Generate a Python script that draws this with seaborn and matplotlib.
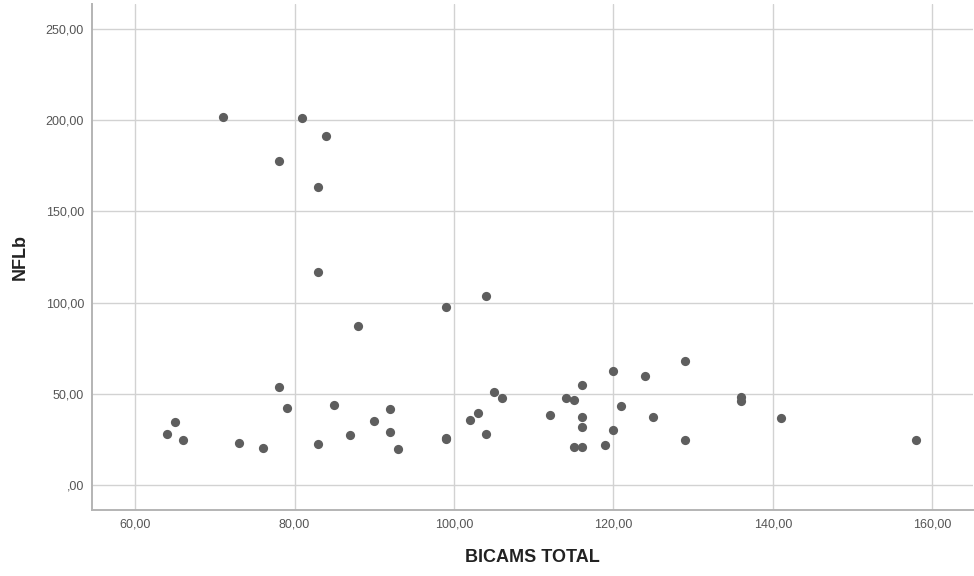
import matplotlib
matplotlib.use("Agg")
import matplotlib.pyplot as plt
import seaborn as sns
import pandas as pd

# BICAMS total score vs. NFLb per subject
bicams_total = [71, 81, 84, 78, 83, 83, 88, 99, 104, 78,
                79, 85, 64, 65, 66, 73, 76, 83, 87, 90,
                92, 92, 93, 99, 99, 102, 103, 104, 105, 106,
                112, 114, 115, 116, 116, 116, 115, 116, 119, 120,
                120, 121, 124, 125, 129, 129, 136, 136, 141, 158]
nflb = [201.6, 201.0, 191.5, 177.8, 163.2, 116.6, 87.2, 97.4, 103.8, 53.5,
        42.4, 44.0, 28.0, 34.7, 24.7, 23.2, 20.3, 22.5, 27.6, 34.9,
        41.7, 29.0, 19.6, 25.8, 25.3, 35.6, 39.7, 28.1, 50.8, 47.7,
        38.4, 47.7, 46.6, 54.8, 37.3, 31.6, 20.6, 20.6, 22.1, 62.7,
        30.0, 43.3, 59.8, 37.3, 68.0, 24.7, 48.3, 46.0, 36.6, 24.7]

x_ticks = [60, 80, 100, 120, 140, 160]
x_tick_labels = ["60,00", "80,00", "100,00", "120,00", "140,00", "160,00"]
y_ticks = [0, 50, 100, 150, 200, 250]
y_tick_labels = [",00", "50,00", "100,00", "150,00", "200,00", "250,00"]

df = pd.DataFrame({"BICAMS TOTAL": bicams_total, "NFLb": nflb})

sns.set_style("whitegrid")
plt.rcParams["font.family"] = ["Liberation Sans", "DejaVu Sans"]

fig = plt.figure(figsize=(9.74, 5.76), dpi=100)
ax = fig.add_axes([92 / 974, 1 - 510 / 576, (973 - 92) / 974, (510 - 4) / 576])

sns.scatterplot(data=df, x="BICAMS TOTAL", y="NFLb", ax=ax,
                color="#5e5e5e", s=44, linewidth=0, alpha=1.0)

ax.set_xlim(54.6, 165.1)
ax.set_ylim(-13.7, 263.7)
ax.set_xticks(x_ticks)
ax.set_xticklabels(x_tick_labels)
ax.set_yticks(y_ticks)
ax.set_yticklabels(y_tick_labels)

ax.grid(True, color="#d2d2d2", linewidth=1.0)
ax.set_axisbelow(True)
ax.tick_params(axis="both", length=0, pad=5.8, labelsize=9, labelcolor="#555555")

for side in ("top", "right"):
    ax.spines[side].set_visible(False)
for side in ("left", "bottom"):
    ax.spines[side].set_color("#b4b4b4")
    ax.spines[side].set_linewidth(1.4)

ax.set_xlabel("BICAMS TOTAL", fontsize=13, fontweight="bold", color="#222222", labelpad=14)
ax.set_ylabel("NFLb", fontsize=13, fontweight="bold", color="#222222", labelpad=12)

fig.savefig("out.png", dpi=100, facecolor="white")
